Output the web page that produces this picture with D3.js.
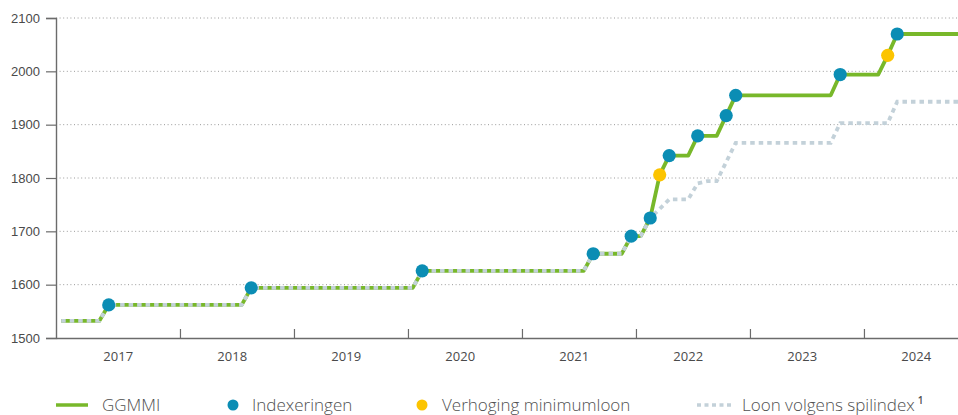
<!DOCTYPE html>
<html>
<head>
<meta charset="utf-8">
<script src="https://cdn.jsdelivr.net/npm/d3@7"></script>
<style>
  body { margin: 0; background: #fff; }
  svg { display: block; font-family: "Open Sans", "Noto Sans", sans-serif; }
</style>
</head>
<body>
<svg id="chart" width="958" height="415"></svg>
<script>
// GGMMI: month of change and new amount (EUR)
var ggmmiDates  = ['2016-12', '2017-05', '2018-08', '2020-02', '2021-08', '2021-12', '2022-02',
                   '2022-03', '2022-04', '2022-07', '2022-10', '2022-11', '2023-10', '2024-03', '2024-04'];
var ggmmiValues = [1532, 1562, 1594, 1626, 1658, 1691, 1725, 1806, 1842, 1879, 1917, 1955, 1994, 2030, 2070];
// '' = no marker, 'idx' = indexering, 'min' = verhoging minimumloon
var ggmmiKind   = ['', 'idx', 'idx', 'idx', 'idx', 'idx', 'idx', 'min', 'idx', 'idx', 'idx', 'idx', 'idx', 'min', 'idx'];

// loon volgens spilindex
var spilDates  = ['2016-12', '2017-05', '2018-08', '2020-02', '2021-08', '2021-12', '2022-02',
                  '2022-03', '2022-04', '2022-07', '2022-08', '2022-10', '2022-11', '2023-10', '2024-04'];
var spilValues = [1532, 1562, 1594, 1626, 1658, 1691, 1725, 1742, 1760, 1790, 1794, 1830, 1866, 1903, 1943];

var years = ['2017', '2018', '2019', '2020', '2021', '2022', '2023', '2024'];
var yTicks = [1500, 1600, 1700, 1800, 1900, 2000, 2100];

var GREEN = '#78b82a', BLUE = '#0b8db4', YELLOW = '#fcc400', GREY = '#c3d1d9';

var svg = d3.select('#chart');
var margin = {left: 56, right: 0, top: 18, bottom: 77};
var W = 958, H = 415;

// months counted from jan 2017, points sit in the middle of the month
function monthPos(s) {
  var p = s.split('-');
  return (+p[0] - 2017) * 12 + (+p[1] - 1) + 0.5;
}

var x = d3.scaleLinear().domain([-1.05, 93.9]).range([margin.left, W - margin.right]);
var y = d3.scaleLinear().domain([1500, 2100]).range([H - margin.bottom, margin.top]);

// step line: hold previous value until the month before, then ramp in one month
function stepPoints(dates, values) {
  var pts = [];
  dates.forEach(function (d, i) {
    var t = monthPos(d);
    if (i > 0) pts.push([t - 1, values[i - 1]]);
    pts.push([t, values[i]]);
  });
  pts.push([x.domain()[1], values[values.length - 1]]);
  return pts;
}

var line = d3.line()
  .x(function (d) { return x(d[0]); })
  .y(function (d) { return y(d[1]); });

// grid
svg.append('g')
  .selectAll('line')
  .data(yTicks.slice(1))
  .join('line')
  .attr('x1', x.range()[0]).attr('x2', x.range()[1])
  .attr('y1', function (d) { return y(d); }).attr('y2', function (d) { return y(d); })
  .attr('stroke', '#9a9a9a')
  .attr('stroke-width', 1)
  .attr('stroke-dasharray', '1,2.6');

// y axis
var yAxis = svg.append('g')
  .attr('transform', 'translate(' + margin.left + ',0)')
  .call(d3.axisLeft(y).tickValues(yTicks).tickSize(10).tickPadding(6).tickFormat(d3.format('d')));
yAxis.select('.domain').attr('stroke', '#6b6b6b').attr('stroke-width', 1.4);
yAxis.selectAll('.tick line').attr('stroke', '#6b6b6b').attr('stroke-width', 1.2);
yAxis.selectAll('.tick text').attr('fill', '#4a4a4a').style('font-size', '13px');

// x axis: inner ticks at year boundaries, labels in the middle of the year
var xAxis = svg.append('g')
  .attr('transform', 'translate(0,' + y(1500) + ')')
  .call(d3.axisBottom(x).tickValues(d3.range(12, 94, 12)).tickSizeInner(-9).tickSizeOuter(0).tickFormat(''));
xAxis.select('.domain').attr('stroke', '#6b6b6b').attr('stroke-width', 1.4);
xAxis.selectAll('.tick line').attr('stroke', '#6b6b6b').attr('stroke-width', 1.2);

svg.append('g')
  .selectAll('text')
  .data(years)
  .join('text')
  .attr('x', function (d, i) { return x(i * 12 + 5.5); })
  .attr('y', y(1500) + 23)
  .attr('text-anchor', 'middle')
  .attr('fill', '#4a4a4a')
  .style('font-size', '13px')
  .text(function (d) { return d; });

// lines
svg.append('path')
  .attr('d', line(stepPoints(ggmmiDates, ggmmiValues)))
  .attr('fill', 'none')
  .attr('stroke', GREEN)
  .attr('stroke-width', 3.8)
  .attr('stroke-linejoin', 'round');

svg.append('path')
  .attr('d', line(stepPoints(spilDates, spilValues)))
  .attr('fill', 'none')
  .attr('stroke', GREY)
  .attr('stroke-width', 3.8)
  .attr('stroke-dasharray', '4.5,4');

// markers
var marks = ggmmiDates.map(function (d, i) {
  return {t: monthPos(d), v: ggmmiValues[i], k: ggmmiKind[i]};
}).filter(function (d) { return d.k; });

svg.append('g')
  .selectAll('circle')
  .data(marks)
  .join('circle')
  .attr('cx', function (d) { return x(d.t); })
  .attr('cy', function (d) { return y(d.v); })
  .attr('r', 6.6)
  .attr('fill', function (d) { return d.k === 'min' ? YELLOW : BLUE; });

// legend
var ly = 405;
var legend = svg.append('g').style('font-size', '17px').attr('fill', '#505050');

legend.append('line')
  .attr('x1', 56).attr('x2', 88).attr('y1', ly).attr('y2', ly)
  .attr('stroke', GREEN).attr('stroke-width', 3.5);
legend.append('text').attr('x', 102).attr('y', ly + 6).style('font-weight', 300).text('GGMMI');

legend.append('circle').attr('cx', 233).attr('cy', ly).attr('r', 5.5).attr('fill', BLUE);
legend.append('text').attr('x', 252).attr('y', ly + 6).style('font-weight', 300).text('Indexeringen');

legend.append('circle').attr('cx', 422).attr('cy', ly).attr('r', 5.5).attr('fill', YELLOW);
legend.append('text').attr('x', 442).attr('y', ly + 6).style('font-weight', 300).text('Verhoging minimumloon');

legend.append('line')
  .attr('x1', 697).attr('x2', 731).attr('y1', ly).attr('y2', ly)
  .attr('stroke', GREY).attr('stroke-width', 3.5).attr('stroke-dasharray', '4,3.5');
var lt = legend.append('text').attr('x', 742).attr('y', ly + 6).style('font-weight', 300);
lt.append('tspan').text('Loon volgens spilindex');
lt.append('tspan').attr('dx', 3).attr('dy', -7).style('font-size', '10px').style('font-weight', 600).text('1');
</script>
</body>
</html>
